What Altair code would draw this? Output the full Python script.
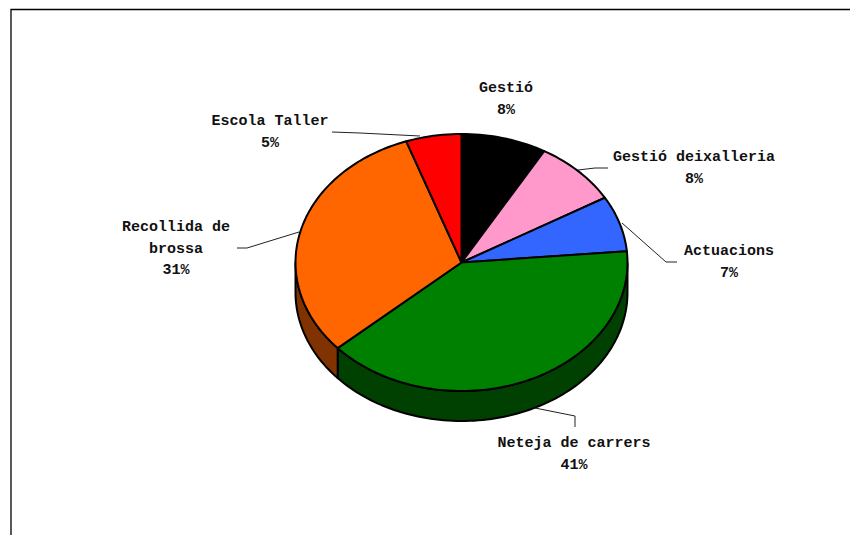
import math
import altair as alt
import pandas as pd

# Slices, clockwise from 12 o'clock
names = ["Gestió", "Gestió deixalleria", "Actuacions", "Neteja de carrers", "Recollida de brossa", "Escola Taller"]
# share of the ellipse each slice occupies as drawn, in percent
drawn_shares = [8.3, 8.3, 7.0, 39.8, 31.2, 5.4]
top_colors = ["#000000", "#FF99CC", "#3366FF", "#008000", "#FF6600", "#FF0000"]
side_colors = ["#000000", "#804D66", "#1A3380", "#004000", "#803300", "#800000"]

# Labels
label_texts = ["Gestió\n8%", "Gestió deixalleria\n8%", "Actuacions\n7%",
               "Neteja de carrers\n41%", "Recollida de\nbrossa\n31%", "Escola Taller\n5%"]
label_x = [506, 694, 729, 574, 176, 270]
label_y = [87, 156, 250, 442, 226, 120]

# Leader lines
leader_x = [[], [608, 595, 578], [677, 666, 622], [575, 575, 535], [237, 247, 299], [332, 360, 420]]
leader_y = [[], [168, 168, 170], [262, 262, 223], [427, 416, 408], [248, 248, 232], [132, 133, 136]]

# Ellipse layout in the pixel-scaled data space
CX, CY, RX, RY, DEPTH = 461.5, 262.5, 166.0, 128.5, 30.0
FONT = "Liberation Mono"
FONT_SIZE = 15

x_enc = alt.X("x:Q", scale=alt.Scale(domain=[8, 850], zero=False, nice=False), axis=None)
y_enc = alt.Y("y:Q", scale=alt.Scale(domain=[535, 8], zero=False, nice=False), axis=None)


def pt(deg, dy=0.0):
    a = math.radians(deg)
    return CX + RX * math.sin(a), CY - RY * math.cos(a) + dy


def arc(a0, a1, dy=0.0):
    n = max(2, int(abs(a1 - a0) / 1.5) + 1)
    return [pt(a0 + (a1 - a0) * i / (n - 1), dy) for i in range(n)]


def poly(points, fill, sw=2.0):
    df = pd.DataFrame({"x": [p[0] for p in points], "y": [p[1] for p in points], "i": range(len(points))})
    return alt.Chart(df).mark_line(fill=fill, stroke="black", strokeWidth=sw, strokeJoin="round", clip=True).encode(
        x=x_enc, y=y_enc, order="i:Q")


layers = []

# Frame
frame = pd.DataFrame({"x": [11, 11, 850], "y": [535, 9.5, 9.5], "i": [0, 1, 2]})
layers.append(alt.Chart(frame).mark_line(color="black", strokeWidth=1.3, clip=True).encode(x=x_enc, y=y_enc, order="i:Q"))

# Side walls (only the front half, 90..270 degrees, is visible)
edges = [0.0]
for s in drawn_shares:
    edges.append(edges[-1] + s * 3.6)
for k in range(len(names)):
    a0, a1 = max(edges[k], 90.0), min(edges[k + 1], 270.0)
    if a1 > a0:
        layers.append(poly(arc(a0, a1) + arc(a1, a0, DEPTH) + arc(a0, a0), side_colors[k]))

# Leader lines
for lx, ly in zip(leader_x, leader_y):
    if lx:
        d = pd.DataFrame({"x": lx, "y": ly, "i": range(len(lx))})
        layers.append(alt.Chart(d).mark_line(color="#222222", strokeWidth=1).encode(x=x_enc, y=y_enc, order="i:Q"))

# Top slices
for k in range(len(names)):
    pts = [(CX, CY)] + arc(edges[k], edges[k + 1]) + [(CX, CY)]
    layers.append(poly(pts, top_colors[k]))

# Labels
labels = pd.DataFrame({"x": label_x, "y": label_y, "t": label_texts})
layers.append(alt.Chart(labels).mark_text(font=FONT, fontSize=FONT_SIZE, fontWeight="bold", color="#111111",
                                          lineBreak="\n", lineHeight=21.5, align="center", baseline="middle").encode(
    x=x_enc, y=y_enc, text="t:N"))

chart = alt.layer(*layers).properties(width=842, height=527, padding=0, autosize=alt.AutoSizeParams(type="none"),
                                      background="white").configure_view(stroke=None)
chart.save("out.html", embed_options={"renderer": "svg", "actions": False})
